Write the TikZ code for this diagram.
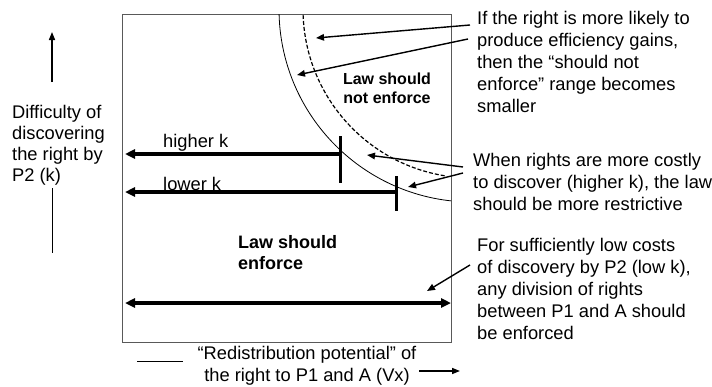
\documentclass[tikz,border=0pt]{standalone}
\usepackage{fontspec}
\setmainfont{Liberation Sans}
\usetikzlibrary{arrows.meta}
\begin{document}
\begin{tikzpicture}[x=1pt,y=-1pt,
  txt/.style={font=\fontsize{18.3}{22}\selectfont, align=left, inner sep=0pt, anchor=north west},
  boldtxt/.style={font=\bfseries\fontsize{18}{21}\selectfont, align=left, inner sep=0pt, anchor=north west},
  thickarr/.style={line width=3.4pt, -{Triangle[length=10pt,width=9pt]}},
  boththick/.style={line width=3.4pt, {Triangle[length=10pt,width=9pt]}-{Triangle[length=10pt,width=9pt]}},
  tickmark/.style={line width=3pt},
  note/.style={line width=1.4pt, -{Triangle[length=8pt,width=6.5pt]}},
  axisarr/.style={line width=1.5pt, -{Triangle[length=8pt,width=6pt]}},
  thinline/.style={line width=0.8pt}]
\useasboundingbox (0,0) rectangle (712,386);

% main box
\node[draw=black!65, line width=1pt, minimum width=329pt, minimum height=328pt, inner sep=0pt, anchor=north west] (box) at (122,14) {};

% boundary curves
\begin{scope}
  \clip (122,14) rectangle (451,342);
  \draw[thinline] (472,9) ++(180:193) arc[start angle=180,end angle=90,radius=193];
  \draw[line width=1.2pt, dash pattern=on 4pt off 2pt] (472,9) ++(180:169) arc[start angle=180,end angle=99.2,radius=169];
\end{scope}

% horizontal range arrows
\coordinate (hkR) at (340,154); \coordinate (hkL) at (125,154);
\draw[thickarr] (hkR) -- (hkL);
\coordinate (hkT) at (340,136); \coordinate (hkB) at (340,183);
\draw[tickmark] (hkT) -- (hkB);
\coordinate (lkR) at (396,192); \coordinate (lkL) at (125,192);
\draw[thickarr] (lkR) -- (lkL);
\coordinate (lkT) at (396,176); \coordinate (lkB) at (396,211);
\draw[tickmark] (lkT) -- (lkB);
\coordinate (bL) at (125,303); \coordinate (bR) at (451,303);
\draw[boththick] (bL) -- (bR);

\node[font=\fontsize{18.3}{22}\selectfont, inner sep=0pt, anchor=base west] (hk) at (163,147) {higher k};
\node[font=\fontsize{18.3}{22}\selectfont, inner sep=0pt, anchor=base west] (lk) at (163,190) {lower k};

% region labels
\node[font=\bfseries\fontsize{16}{19.5}\selectfont, align=center, inner sep=0pt, anchor=north] (ne) at (387,72.3) {Law should\\not enforce};
\node[boldtxt] (en) at (238,235) {Law should\\enforce};

% annotations
\node[txt] (t1) at (477,10.6) {If the right is more likely to\\produce efficiency gains,\\then the “should not\\enforce” range becomes\\smaller};
\node[txt] (t2) at (473,152.6) {When rights are more costly\\to discover (higher k), the law\\should be more restrictive};
\node[txt] (t3) at (477,237.6) {For sufficiently low costs\\of discovery by P2 (low k),\\any division of rights\\between P1 and A should\\be enforced};

\coordinate (a1s) at (470,25); \coordinate (a1e) at (316,38);
\coordinate (a2s) at (468,39); \coordinate (a2e) at (297,75);
\draw[note] (a1s) -- (a1e);
\draw[note] (a2s) -- (a2e);
\coordinate (b1s) at (463,167); \coordinate (b1e) at (367,155);
\coordinate (b2s) at (463,173); \coordinate (b2e) at (408,187);
\draw[note] (b1s) -- (b1e);
\draw[note] (b2s) -- (b2e);
\coordinate (c1s) at (470,265); \coordinate (c1e) at (427,291);
\draw[note] (c1s) -- (c1e);

% axis labels
\node[txt, font=\fontsize{18.3}{21.3}\selectfont] (yl) at (12,104.6) {Difficulty of\\discovering\\the right by\\P2 (k)};
\coordinate (yaB) at (52,82); \coordinate (yaT) at (52,32);
\draw[axisarr] (yaB) -- (yaT);
\coordinate (ylT) at (52,188); \coordinate (ylB) at (52,253);
\draw[thinline] (ylT) -- (ylB);

\node[txt, align=center, anchor=north, font=\fontsize{18.3}{22.5}\selectfont] (xl) at (307,346) {“Redistribution potential” of\\the right to P1 and A (Vx)};
\coordinate (xlL) at (137,361); \coordinate (xlR) at (183,361);
\draw[thinline] (xlL) -- (xlR);
\coordinate (xaL) at (419,371); \coordinate (xaR) at (460,371);
\draw[axisarr] (xaL) -- (xaR);
\end{tikzpicture}
\end{document}
